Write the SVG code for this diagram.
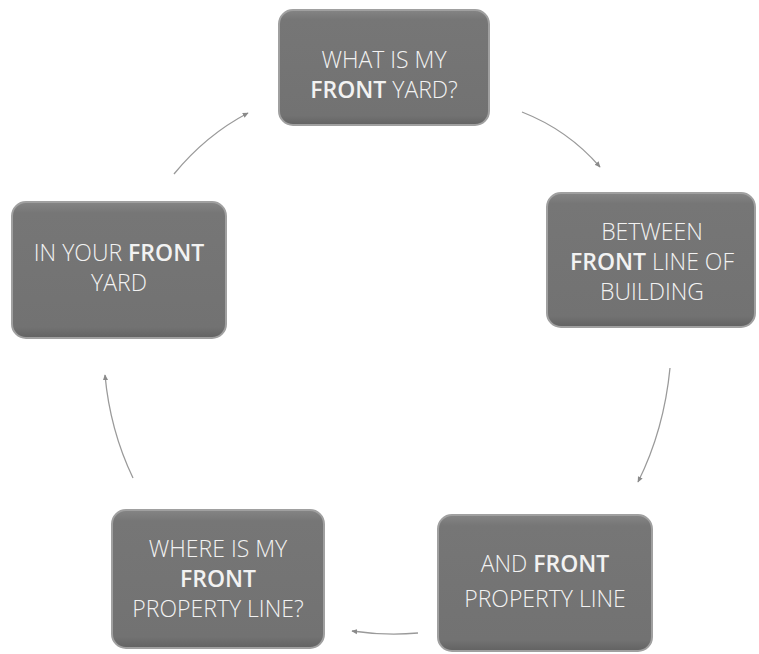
<svg xmlns="http://www.w3.org/2000/svg" width="759" height="654" viewBox="0 0 759 654">
<defs>
<linearGradient id="bevel" x1="0" y1="0" x2="0" y2="1">
<stop offset="0" stop-color="#858585"/>
<stop offset="0.08" stop-color="#767676"/>
<stop offset="0.92" stop-color="#727272"/>
<stop offset="1" stop-color="#626262"/>
</linearGradient>
<marker id="arr" viewBox="0 0 10 10" refX="8" refY="5" markerWidth="5" markerHeight="5" orient="auto">
<path d="M0,1 L9,5 L0,9 z" fill="#8a8a8a"/>
</marker>
</defs>
<style>
.box{fill:url(#bevel);stroke:#a0a0a0;stroke-width:2}
.t{font-family:"Open Sans","Liberation Sans",sans-serif;font-size:23px;fill:#f2f2f2;text-anchor:middle;font-weight:300}
.b{font-weight:600}
.c{fill:none;stroke:#9a9a9a;stroke-width:1.3;marker-end:url(#arr)}
</style>
<rect width="759" height="654" fill="#ffffff"/>
<g id="connectors">
<path class="c" d="M522,112 Q568,130 600,167"/>
<path class="c" d="M670,368 Q664,430 638,482"/>
<path class="c" d="M418,633 Q386,636 352,631"/>
<path class="c" d="M133,478 Q110,430 105,375"/>
<path class="c" d="M174,174 Q206,135 248,113"/>
</g>
<g id="n1">
<rect class="box" x="279" y="10" width="210" height="115" rx="14"/>
<text class="t" x="384" y="68">WHAT IS MY</text>
<text class="t" x="384" y="98"><tspan class="b">FRONT</tspan> YARD?</text>
</g>
<g id="n2">
<rect class="box" x="547" y="193" width="208" height="134" rx="14"/>
<text class="t" x="652" y="240">BETWEEN</text>
<text class="t" x="652" y="270"><tspan class="b">FRONT</tspan>  LINE OF</text>
<text class="t" x="652" y="300">BUILDING</text>
</g>
<g id="n3">
<rect class="box" x="438" y="515" width="214" height="136" rx="14"/>
<text class="t" x="545" y="572">AND <tspan class="b">FRONT</tspan></text>
<text class="t" x="545" y="607">PROPERTY LINE</text>
</g>
<g id="n4">
<rect class="box" x="112" y="510" width="212" height="138" rx="14"/>
<text class="t" x="218" y="557">WHERE IS MY</text>
<text class="t" x="218" y="587"><tspan class="b">FRONT</tspan></text>
<text class="t" x="218" y="617">PROPERTY LINE?</text>
</g>
<g id="n5">
<rect class="box" x="12" y="202" width="214" height="136" rx="14"/>
<text class="t" x="119" y="261">IN YOUR <tspan class="b">FRONT</tspan></text>
<text class="t" x="119" y="291">YARD</text>
</g>
</svg>
